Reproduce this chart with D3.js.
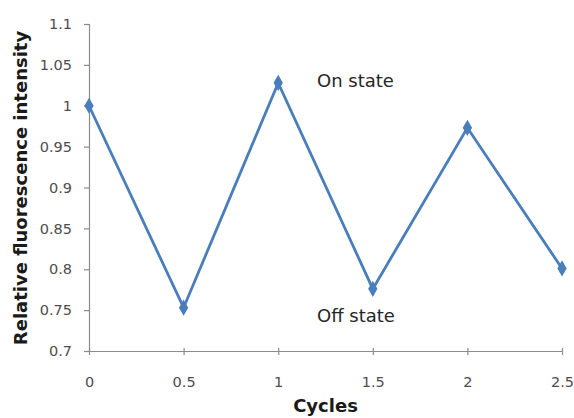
<!DOCTYPE html>
<html>
<head>
<meta charset="utf-8">
<script src="https://cdn.jsdelivr.net/npm/d3@7"></script>
<style>
    body { margin: 0; background: #fff; }
    svg text { font-family: "DejaVu Sans", sans-serif; }
</style>
</head>
<body>
<div id="chart"></div>
<script>
// data
const cycles = [0, 0.5, 1, 1.5, 2, 2.5];
const intensity = [1.0, 0.753, 1.028, 0.776, 0.973, 0.801];
const xTicks = [0, 0.5, 1, 1.5, 2, 2.5];
const yTicks = [0.7, 0.75, 0.8, 0.85, 0.9, 0.95, 1, 1.05, 1.1];
const notes = [
    {text: "On state", x: 1.205, y: 1.023},
    {text: "Off state", x: 1.205, y: 0.735}
];

const width = 574, height = 418;
const margin = {top: 24, right: 12, bottom: 67, left: 89};

const svg = d3.select("#chart").append("svg")
    .attr("width", width)
    .attr("height", height);

const x = d3.scaleLinear()
    .domain([0, 2.5])
    .range([margin.left, width - margin.right]);

const y = d3.scaleLinear()
    .domain([0.7, 1.1])
    .range([height - margin.bottom, margin.top]);

// y axis
const yAxis = svg.append("g")
    .attr("transform", `translate(${margin.left},0)`)
    .call(d3.axisLeft(y).tickValues(yTicks).tickSize(5).tickPadding(12)
        .tickFormat(d => d3.format("")(+d.toFixed(2))));

// x axis, ticks cross the line
const xAxis = svg.append("g")
    .attr("transform", `translate(0,${height - margin.bottom})`)
    .call(d3.axisBottom(x).tickValues(xTicks).tickSize(0).tickPadding(26)
        .tickFormat(d => d3.format("")(d)));

xAxis.selectAll(".tick line")
    .attr("y1", -3)
    .attr("y2", 4);

[yAxis, xAxis].forEach(g => {
    g.select(".domain").attr("stroke", "#8c8c8c").attr("stroke-width", 1.2);
    g.selectAll(".tick line").attr("stroke", "#8c8c8c").attr("stroke-width", 1.2);
    g.selectAll(".tick text")
        .attr("fill", "#4d4d4d")
        .style("font-size", "14.5px");
});

// line
const pts = cycles.map((c, i) => ({c: c, v: intensity[i]}));

const line = d3.line()
    .x(d => x(d.c))
    .y(d => y(d.v));

svg.append("path")
    .datum(pts)
    .attr("d", line)
    .attr("fill", "none")
    .attr("stroke", "#4a7ebb")
    .attr("stroke-width", 2.8);

svg.selectAll(".point")
    .data(pts)
    .join("path")
    .attr("class", "point")
    .attr("d", d3.symbol().type(d3.symbolDiamond).size(75))
    .attr("transform", d => `translate(${x(d.c)},${y(d.v)})`)
    .attr("fill", "#4a7ebb");

// annotations
svg.selectAll(".note")
    .data(notes)
    .join("text")
    .attr("class", "note")
    .attr("x", d => x(d.x))
    .attr("y", d => y(d.y))
    .attr("fill", "#262626")
    .style("font-size", "18px")
    .text(d => d.text);

// axis titles
svg.append("text")
    .attr("x", (margin.left + width - margin.right) / 2)
    .attr("y", 412)
    .attr("text-anchor", "middle")
    .attr("fill", "#1a1a1a")
    .style("font-size", "18px")
    .style("font-weight", "bold")
    .text("Cycles");

svg.append("text")
    .attr("transform", `translate(27,188) rotate(-90)`)
    .attr("text-anchor", "middle")
    .attr("fill", "#1a1a1a")
    .style("font-size", "18px")
    .style("font-weight", "bold")
    .text("Relative fluorescence intensity");
</script>
</body>
</html>
